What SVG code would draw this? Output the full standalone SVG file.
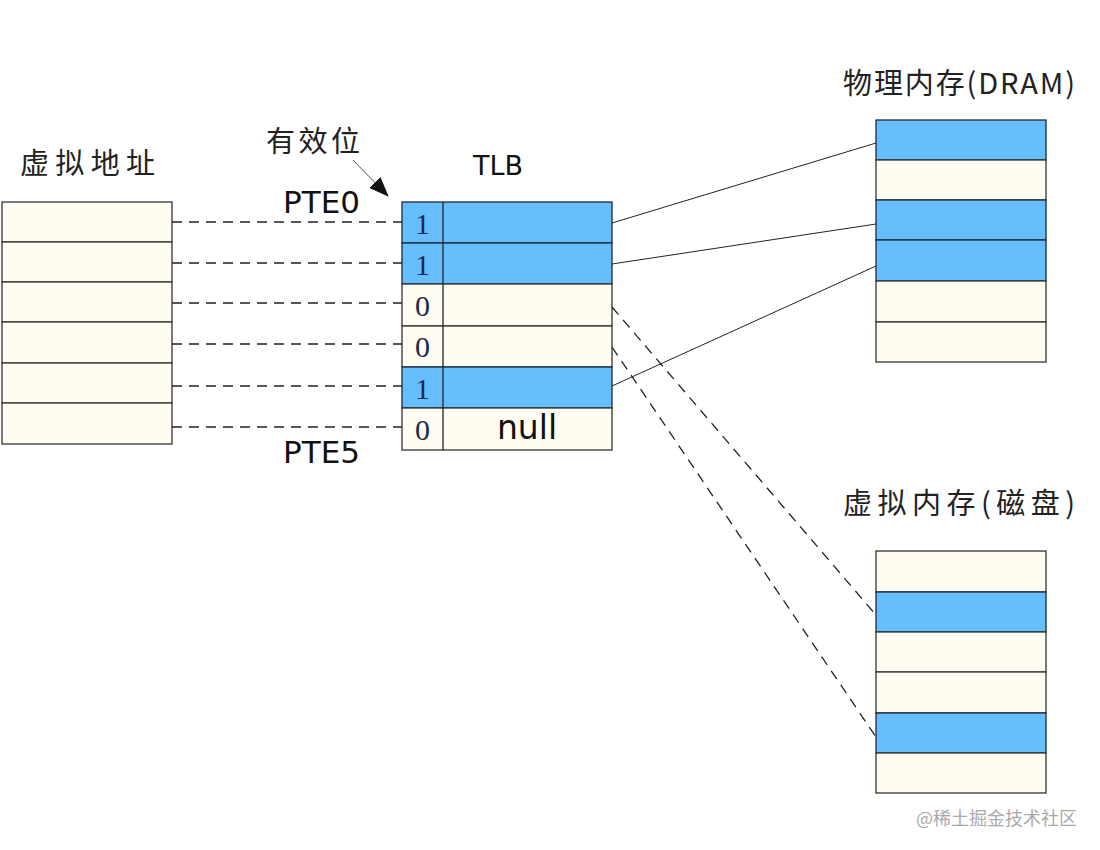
<svg xmlns="http://www.w3.org/2000/svg" width="1100" height="850" viewBox="0 0 1100 850">
<defs>
<style>
.cream{fill:#fffdf1;stroke:#333;stroke-width:1.3}
.blue{fill:#66bffc;stroke:#1a2a3a;stroke-width:1.3}
.cjk{font-family:"Noto Sans CJK SC",sans-serif;font-size:29px;fill:#222}
.lat{font-family:"DejaVu Sans","Noto Sans CJK SC",sans-serif;fill:#111}
.bit{font-family:"Liberation Serif",serif;font-size:30px;fill:#1a2a50}
.solid{stroke:#222;stroke-width:1;fill:none}
.dash{stroke:#222;stroke-width:1.3;fill:none;stroke-dasharray:10 7}
</style>
<marker id="ah2" viewBox="0 0 18 14" refX="17" refY="7" markerWidth="20" markerHeight="16" markerUnits="userSpaceOnUse" orient="auto">
<path d="M0,0 L18,7 L0,14 z" fill="#111"/>
</marker>
</defs>
<rect width="1100" height="850" fill="#ffffff"/>

<g id="virtual-address">
<text class="cjk" x="20" y="174" textLength="135" lengthAdjust="spacing">虚拟地址</text>
<rect class="cream" x="2" y="202" width="170" height="40"/>
<rect class="cream" x="2" y="242" width="170" height="40"/>
<rect class="cream" x="2" y="282" width="170" height="40"/>
<rect class="cream" x="2" y="322" width="170" height="41"/>
<rect class="cream" x="2" y="363" width="170" height="40"/>
<rect class="cream" x="2" y="403" width="170" height="41"/>
</g>

<g id="tlb">
<text class="lat" x="473" y="175" font-size="27">TLB</text>
<text class="lat" x="283" y="213" font-size="31">PTE0</text>
<text class="lat" x="283" y="463" font-size="31">PTE5</text>
<rect class="blue" x="402" y="202" width="210" height="41"/>
<rect class="blue" x="402" y="243" width="210" height="41"/>
<rect class="cream" x="402" y="284" width="210" height="42"/>
<rect class="cream" x="402" y="326" width="210" height="41"/>
<rect class="blue" x="402" y="367" width="210" height="41"/>
<rect class="cream" x="402" y="408" width="210" height="42"/>
<line x1="443" y1="202" x2="443" y2="450" stroke="#222" stroke-width="1.3"/>
<text class="bit" x="415" y="234">1</text>
<text class="bit" x="415" y="275">1</text>
<text class="bit" x="415" y="316">0</text>
<text class="bit" x="415" y="357">0</text>
<text class="bit" x="415" y="399">1</text>
<text class="bit" x="415" y="440">0</text>
<text class="lat" x="527" y="439" font-size="33" text-anchor="middle">null</text>
</g>

<g id="valid-bit">
<text class="cjk" x="266" y="152" textLength="94" lengthAdjust="spacing">有效位</text>
<line x1="353" y1="160" x2="388" y2="196" stroke="#555" stroke-width="1" marker-end="url(#ah2)"/>
</g>

<g id="physical-memory">
<text class="cjk" x="843" y="94" textLength="232" lengthAdjust="spacing">物理内存(DRAM)</text>
<rect class="blue" x="876" y="120" width="170" height="40"/>
<rect class="cream" x="876" y="160" width="170" height="40"/>
<rect class="blue" x="876" y="200" width="170" height="40"/>
<rect class="blue" x="876" y="240" width="170" height="41"/>
<rect class="cream" x="876" y="281" width="170" height="41"/>
<rect class="cream" x="876" y="322" width="170" height="40"/>
</g>

<g id="virtual-memory-disk">
<text class="cjk" x="843" y="514" textLength="232" lengthAdjust="spacing">虚拟内存(磁盘)</text>
<rect class="cream" x="876" y="551" width="170" height="41"/>
<rect class="blue" x="876" y="592" width="170" height="40"/>
<rect class="cream" x="876" y="632" width="170" height="40"/>
<rect class="cream" x="876" y="672" width="170" height="41"/>
<rect class="blue" x="876" y="713" width="170" height="40"/>
<rect class="cream" x="876" y="753" width="170" height="40"/>
</g>

<g id="connectors">
<line class="dash" x1="172" y1="222" x2="402" y2="222"/>
<line class="dash" x1="172" y1="263" x2="402" y2="263"/>
<line class="dash" x1="172" y1="303" x2="402" y2="303"/>
<line class="dash" x1="172" y1="344" x2="402" y2="344"/>
<line class="dash" x1="172" y1="386" x2="402" y2="386"/>
<line class="dash" x1="172" y1="427" x2="402" y2="427"/>
<line class="solid" x1="612" y1="223" x2="876" y2="143"/>
<line class="solid" x1="612" y1="264" x2="876" y2="224"/>
<line class="solid" x1="612" y1="386" x2="876" y2="266"/>
<line class="dash" x1="612" y1="307" x2="876" y2="615"/>
<line class="dash" x1="612" y1="347" x2="876" y2="737"/>
</g>

<text x="916" y="825" font-family="Noto Sans CJK SC, sans-serif" font-size="18" fill="#aaaaaa">@稀土掘金技术社区</text>
</svg>
